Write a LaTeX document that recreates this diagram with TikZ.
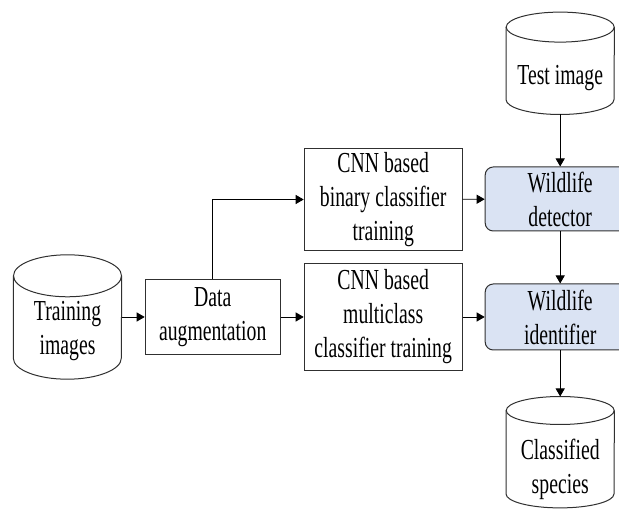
\documentclass[tikz,border=0pt]{standalone}
\usepackage{fontspec}
\newfontfamily\diagfont{Liberation Serif}[FakeStretch=0.68]
\usetikzlibrary{arrows.meta,positioning}
\definecolor{boxblue}{HTML}{DAE3F3}
\definecolor{edgegray}{HTML}{303030}
\newcommand\storetext[2]{\raisebox{-#1}[0pt][0pt]{\begin{tabular}{@{}c@{}}#2\end{tabular}}}

\begin{document}
\begin{tikzpicture}[x=1pt,y=-1pt,>={Triangle[length=8pt,width=9pt]},every node/.append style={align=center,font=\diagfont\fontsize{29}{34}\selectfont},
  proc/.style={rectangle,draw=edgegray,line width=1pt,inner sep=2pt},
  stage/.style={rectangle,rounded corners=8pt,draw=edgegray,fill=boxblue,line width=1pt,minimum width=150pt},
  store/.style={rectangle,minimum width=108pt,inner sep=0pt},
  storeline/.style={draw=edgegray,line width=1pt},
  link/.style={->,line width=0.9pt,black}]
    \useasboundingbox (0,0) rectangle (619,510);
    \clip (0,0) rectangle (619,510);
    \node [store, minimum height=124pt] (TR) at (67.5,317) {\storetext{20pt}{Training\\images}};
    \node [proc, right=23pt of TR, minimum width=135pt, minimum height=75pt] (DA) {Data\\augmentation};
    \node [proc, right=23pt of DA, minimum width=158pt, minimum height=107pt] (MC) {CNN based\\multiclass\\classifier training};
    \node [proc, above=12pt of MC, minimum width=158pt, minimum height=102pt] (BC) {CNN based\\binary classifier\\training};
    \node [stage, right=22pt of MC, minimum height=66pt] (WI) {Wildlife\\identifier};
    \node [stage, above=52pt of WI, minimum height=64pt] (WD) {Wildlife\\detector};
    \node [store, above=52pt of WD, minimum height=102pt] (TI) {\storetext{21pt}{Test image}};
    \node [store, below=46pt of WI, minimum height=111pt] (CS) {\storetext{24pt}{Classified\\species}};
    % cylinder outlines round the store nodes
    \foreach \s/\r in {TR/21pt,TI/15pt,CS/14pt}{
      \draw[storeline] ([yshift=-\r]\s.north) ellipse [x radius=54pt, y radius=\r];
      \draw[storeline] ([yshift=-\r]\s.north west) -- ([yshift=\r]\s.south west) arc [start angle=180, end angle=360, x radius=54pt, y radius=\r] -- ([yshift=-\r]\s.north east);
    }
    \path[link] (TR) edge (DA);
    \path[link] (DA) edge (MC);
    \path[link] (MC) edge (WI);
    \path[link] (BC) edge (WD);
    \draw[link] (DA.north) |- (BC.west);
    \path[link] (TI) edge (WD);
    \path[link] (WD) edge (WI);
    \path[link] (WI) edge (CS);
\end{tikzpicture}
\end{document}
